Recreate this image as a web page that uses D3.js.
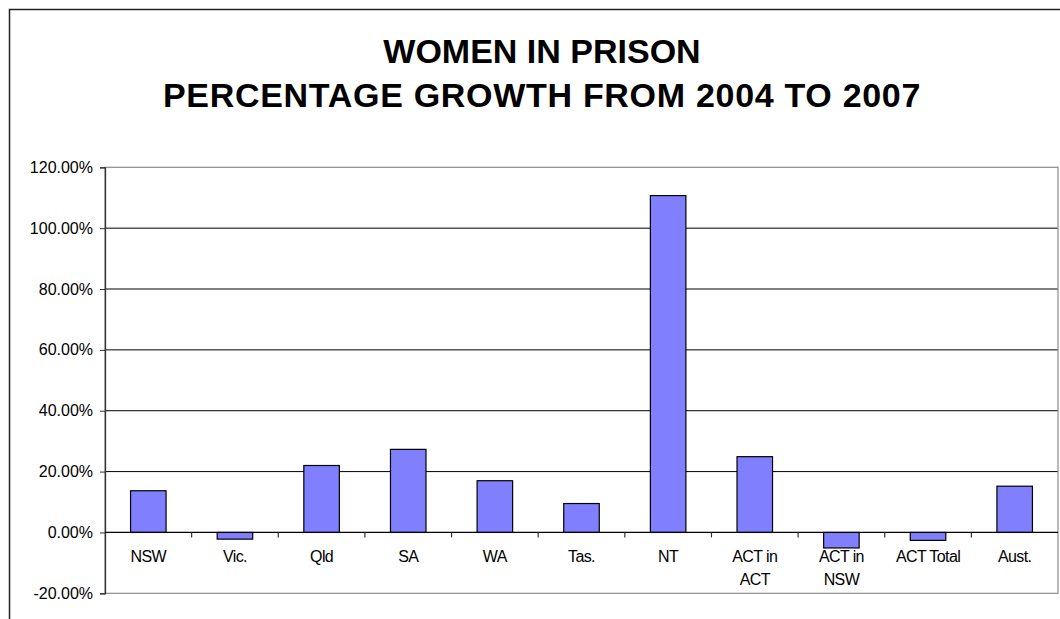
<!DOCTYPE html>
<html>
<head>
<meta charset="utf-8">
<script src="https://cdn.jsdelivr.net/npm/d3@7"></script>
<style>
  html, body { margin: 0; padding: 0; background: #fff; }
  svg { display: block; }
  text { font-family: "Liberation Sans", Arial, sans-serif; }
</style>
</head>
<body>
<script>
const titleLines = ["WOMEN IN PRISON", "PERCENTAGE GROWTH FROM 2004 TO 2007"];
const categories = ["NSW", "Vic.", "Qld", "SA", "WA", "Tas.", "NT", "ACT in\nACT", "ACT in\nNSW", "ACT Total", "Aust."];
const growth = [0.137, -0.022, 0.220, 0.273, 0.170, 0.095, 1.107, 0.249, -0.051, -0.026, 0.152];
const yTicks = [-0.2, 0, 0.2, 0.4, 0.6, 0.8, 1.0, 1.2];

const W = 1060, H = 619;
const plot = { left: 105, right: 1058, top: 167.3, bottom: 593.3 };

const svg = d3.select("body").append("svg").attr("width", W).attr("height", H);

// outer chart border
svg.append("rect")
  .attr("x", 9.5).attr("y", 9.5).attr("width", W + 20).attr("height", H + 20)
  .attr("fill", "#fff").attr("stroke", "#222").attr("stroke-width", 1.5);

// title
svg.append("text")
  .attr("x", 542).attr("y", 63)
  .attr("text-anchor", "middle")
  .attr("font-size", 34).attr("font-weight", "bold").attr("fill", "#000")
  .selectAll("tspan").data(titleLines).join("tspan")
  .attr("x", 542).attr("dy", (d, i) => i === 0 ? 0 : 44)
  .attr("letter-spacing", (d, i) => i === 0 ? 0 : 0.7)
  .text(d => d);

const x = d3.scaleBand().domain(categories).range([plot.left, plot.right]).padding(0);
const y = d3.scaleLinear().domain([-0.2, 1.2]).range([plot.bottom, plot.top]);

const fmtLocale = d3.formatLocale({ decimal: ".", thousands: ",", grouping: [3], currency: ["", ""], minus: "-", percent: "%" });
const fmt = fmtLocale.format(".2%");

// gridlines
svg.append("g").selectAll("line").data(yTicks.filter(t => t > -0.2 && t < 1.2 && t !== 0)).join("line")
  .attr("x1", plot.left).attr("x2", plot.right)
  .attr("y1", d => y(d)).attr("y2", d => y(d))
  .attr("stroke", "#000").attr("stroke-width", 1);

// plot area border (gray)
svg.append("rect")
  .attr("x", plot.left).attr("y", plot.top)
  .attr("width", plot.right - plot.left).attr("height", plot.bottom - plot.top)
  .attr("fill", "none").attr("stroke", "#8c8c8c").attr("stroke-width", 1.2);

// bars
const bw = x.step() * 0.41;
svg.append("g").selectAll("rect").data(categories).join("rect")
  .attr("x", (d) => x(d) + x.bandwidth() / 2 - bw / 2)
  .attr("width", bw)
  .attr("y", (d, i) => y(Math.max(0, growth[i])))
  .attr("height", (d, i) => Math.abs(y(growth[i]) - y(0)))
  .attr("fill", "#8080ff").attr("stroke", "#000").attr("stroke-width", 1.2);

// y axis
const yAxis = d3.axisLeft(y).tickValues(yTicks).tickFormat(fmt).tickSize(5).tickPadding(7);
const gy = svg.append("g").attr("transform", `translate(${plot.left},0)`).call(yAxis);
gy.select(".domain").attr("stroke", "#333").attr("stroke-width", 1.3);
gy.selectAll(".tick line").attr("stroke", "#333");
gy.selectAll(".tick text").attr("font-size", 16).attr("fill", "#000").attr("font-family", "Liberation Sans, Arial, sans-serif");

// x axis at zero
const zeroY = y(0);
svg.append("line").attr("x1", plot.left).attr("x2", plot.right).attr("y1", zeroY).attr("y2", zeroY)
  .attr("stroke", "#000").attr("stroke-width", 1.2);
const boundaries = categories.slice(1).map(c => x(c));
svg.append("g").selectAll("line").data(boundaries).join("line")
  .attr("x1", d => d).attr("x2", d => d).attr("y1", zeroY).attr("y2", zeroY + 5)
  .attr("stroke", "#333").attr("stroke-width", 1.2);

// category labels
const lbl = svg.append("g").selectAll("text").data(categories).join("text")
  .attr("x", d => x(d) + x.bandwidth() / 2)
  .attr("y", 562)
  .attr("text-anchor", "middle").attr("font-size", 16).attr("fill", "#000")
  .attr("letter-spacing", -0.6);
lbl.selectAll("tspan").data(d => d.split("\n").map(t => ({ t, c: d }))).join("tspan")
  .attr("x", d => x(d.c) + x.bandwidth() / 2)
  .attr("dy", (d, i) => i === 0 ? 0 : 23)
  .text(d => d.t);
</script>
</body>
</html>
